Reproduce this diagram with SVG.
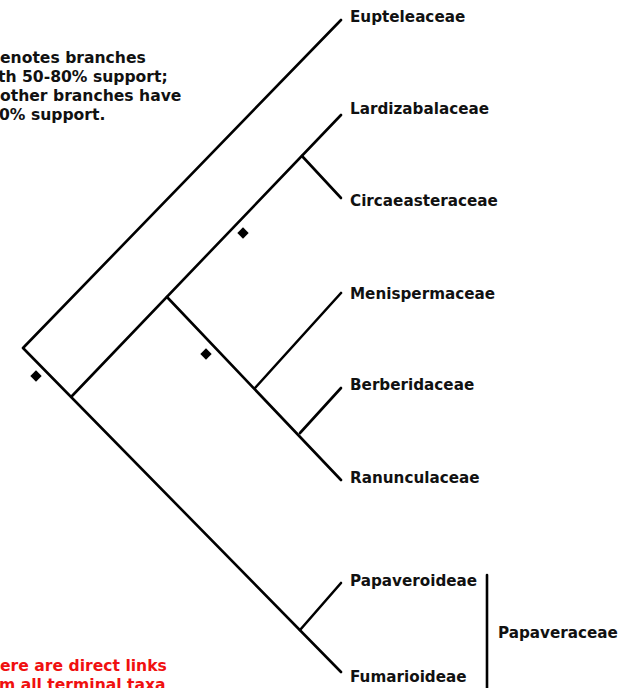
<svg xmlns="http://www.w3.org/2000/svg" width="620" height="688" viewBox="0 0 620 688">
<style>
.t{font-family:"DejaVu Sans",Verdana,sans-serif;font-weight:bold;font-size:15.2px;fill:#111}
.l{font-size:15.6px}
.r{fill:#f01010}
.e{stroke:#000;stroke-width:2.6;fill:none;stroke-linecap:round;stroke-linejoin:round}
.d{fill:#000}
</style>
<rect width="620" height="688" fill="#fff"/>
<g id="legend">
<text class="t l" x="0" y="63">enotes branches</text>
<text class="t l" x="-2" y="82">th 50-80% support;</text>
<text class="t l" x="0" y="101">other branches have</text>
<text class="t l" x="-1" y="120">0% support.</text>
</g>
<g id="note">
<text class="t l r" x="0" y="671">ere are direct links</text>
<text class="t l r" x="-1" y="690">m all terminal taxa</text>
</g>
<g id="connectors">
<polyline class="e" points="341,20 23,348 341,672"/>
<line class="e" x1="72" y1="396" x2="341" y2="115"/>
<line class="e" x1="302" y1="156" x2="341" y2="198"/>
<line class="e" x1="167" y1="297" x2="341" y2="480"/>
<line class="e" x1="255" y1="388" x2="341" y2="293"/>
<line class="e" x1="300" y1="433" x2="341" y2="388"/>
<line class="e" x1="300" y1="630" x2="341" y2="583"/>
<line class="e" x1="487" y1="575" x2="487" y2="688"/>
</g>
<g id="support">
<rect class="d" x="-4" y="-4" width="8" height="8" transform="translate(36,376) rotate(45)"/>
<rect class="d" x="-4" y="-4" width="8" height="8" transform="translate(243,233) rotate(45)"/>
<rect class="d" x="-4" y="-4" width="8" height="8" transform="translate(206,354) rotate(45)"/>
</g>
<g id="n-eupteleaceae"><text class="t" x="350" y="22">Eupteleaceae</text></g>
<g id="n-lardizabalaceae"><text class="t" x="350" y="114">Lardizabalaceae</text></g>
<g id="n-circaeasteraceae"><text class="t" x="350" y="206">Circaeasteraceae</text></g>
<g id="n-menispermaceae"><text class="t" x="350" y="299">Menispermaceae</text></g>
<g id="n-berberidaceae"><text class="t" x="350" y="390">Berberidaceae</text></g>
<g id="n-ranunculaceae"><text class="t" x="350" y="483">Ranunculaceae</text></g>
<g id="n-papaveroideae"><text class="t" x="350" y="586">Papaveroideae</text></g>
<g id="n-fumarioideae"><text class="t" x="350" y="682">Fumarioideae</text></g>
<g id="n-papaveraceae"><text class="t" x="498" y="638">Papaveraceae</text></g>
</svg>
